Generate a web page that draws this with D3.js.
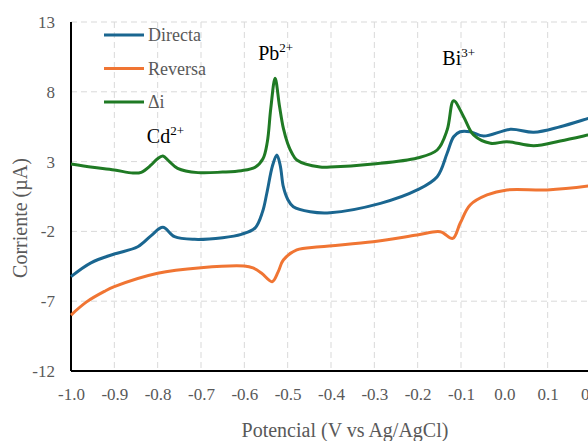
<!DOCTYPE html>
<html>
<head>
<meta charset="utf-8">
<script src="https://cdn.jsdelivr.net/npm/d3@7"></script>
<style>
  body { margin: 0; background: #fff; }
  svg { display: block; font-family: "Liberation Serif", "DejaVu Serif", serif; }
</style>
</head>
<body>
<div id="chart"></div>
<script>
// potencial (V) / corriente (uA)
let directaData = [
    [-1.000, -5.24], [-0.954, -4.25], [-0.900, -3.62], [-0.846, -3.10], [-0.815, -2.30],
    [-0.788, -1.71], [-0.761, -2.38], [-0.715, -2.57], [-0.650, -2.45], [-0.607, -2.21],
    [-0.575, -1.75], [-0.558, -0.60], [-0.548, 0.75], [-0.535, 2.70], [-0.525, 3.47],
    [-0.517, 2.70], [-0.510, 1.20], [-0.500, 0.30], [-0.487, -0.23], [-0.448, -0.59],
    [-0.402, -0.66], [-0.286, 0.01], [-0.201, 0.97], [-0.155, 1.92], [-0.132, 3.60],
    [-0.117, 4.78], [-0.102, 5.14], [-0.079, 5.14], [-0.048, 4.83], [0.014, 5.31],
    [0.068, 5.10], [0.129, 5.50], [0.194, 6.10], [0.200, 6.15]
];
let reversaData = [
    [-1.000, -7.99], [-0.964, -7.05], [-0.923, -6.30], [-0.900, -5.96], [-0.800, -5.00],
    [-0.700, -4.60], [-0.600, -4.48], [-0.580, -4.62], [-0.560, -5.00],
    [-0.536, -5.60], [-0.522, -4.90], [-0.510, -4.05], [-0.479, -3.33], [-0.425, -3.10],
    [-0.303, -2.74], [-0.201, -2.26], [-0.148, -2.02], [-0.119, -2.50], [-0.102, -1.42],
    [-0.079, -0.11], [-0.040, 0.61], [0.006, 0.97], [0.099, 0.97], [0.194, 1.25], [0.200, 1.28]
];
let deltaData = [
    [-1.000, 2.83], [-0.950, 2.60], [-0.900, 2.40], [-0.857, 2.18], [-0.838, 2.23],
    [-0.815, 2.76], [-0.801, 3.19], [-0.788, 3.40], [-0.774, 3.04], [-0.754, 2.52],
    [-0.707, 2.21], [-0.650, 2.25], [-0.607, 2.35], [-0.575, 2.60], [-0.557, 3.20],
    [-0.547, 4.40], [-0.539, 6.80], [-0.529, 8.97], [-0.519, 7.00],
    [-0.510, 5.40], [-0.500, 4.30], [-0.490, 3.60], [-0.479, 3.12],
    [-0.425, 2.61], [-0.402, 2.61], [-0.303, 2.83], [-0.201, 3.26], [-0.155, 3.83],
    [-0.132, 5.26], [-0.117, 7.36], [-0.094, 6.22], [-0.071, 4.91], [-0.032, 4.31],
    [0.006, 4.43], [0.068, 4.14], [0.129, 4.48], [0.194, 4.91], [0.200, 4.95]
];

let xTicks = [-1.0, -0.9, -0.8, -0.7, -0.6, -0.5, -0.4, -0.3, -0.2, -0.1, 0.0, 0.1, 0.2];
let yTicks = [-12, -7, -2, 3, 8, 13];

let seriesNames = ["Directa", "Reversa", "\u0394i"];
let seriesColors = ["#1a6690", "#f07533", "#1f7a24"];

// peak labels: [ion, charge, x, y]
let peakLabels = [
    ["Cd", "2+", -0.825, 4.3],
    ["Pb", "2+", -0.568, 10.3],
    ["Bi", "3+", -0.143, 9.9]
];

let width = 588, height = 441;
let margin = { "top": 22, "bottom": 70, "left": 71 };

let svg = d3.select("#chart")
    .append("svg")
    .attr("width", width)
    .attr("height", height);

let xScale = d3.scaleLinear()
    .domain([-1.0, 0.2])
    .range([margin.left, 591]);
let yScale = d3.scaleLinear()
    .domain([-12, 13])
    .range([height - margin.bottom, margin.top]);

// grid
svg.append("g")
    .selectAll("line")
    .data(xTicks.slice(1))
    .enter()
    .append("line")
    .attr("x1", d => xScale(d)).attr("x2", d => xScale(d))
    .attr("y1", yScale(13)).attr("y2", yScale(-12))
    .attr("stroke", "#d9d9d9")
    .attr("stroke-dasharray", "6,4");
svg.append("g")
    .selectAll("line")
    .data(yTicks.slice(1))
    .enter()
    .append("line")
    .attr("x1", xScale(-1.0)).attr("x2", width)
    .attr("y1", d => yScale(d)).attr("y2", d => yScale(d))
    .attr("stroke", "#d9d9d9")
    .attr("stroke-dasharray", "6,4");

// axes
let xAxis = svg.append("g")
    .attr("transform", "translate(0," + yScale(-12) + ")")
    .call(d3.axisBottom(xScale)
        .tickValues(xTicks)
        .tickSize(0)
        .tickPadding(17)
        .tickFormat(d => d3.format(".1f")(d).replace("\u2212", "-")));
let yAxis = svg.append("g")
    .attr("transform", "translate(" + xScale(-1.0) + ",0)")
    .call(d3.axisLeft(yScale)
        .tickValues(yTicks)
        .tickSize(0)
        .tickPadding(16)
        .tickFormat(d => String(d)));
[xAxis, yAxis].forEach(function (a) {
    a.select(".domain").remove();
    a.selectAll("text")
        .attr("fill", "#595959")
        .style("font-family", "Liberation Serif")
        .style("font-size", "17px");
});

svg.append("line")
    .attr("x1", xScale(-1.0)).attr("x2", width)
    .attr("y1", yScale(-12)).attr("y2", yScale(-12))
    .attr("stroke", "#000").attr("stroke-width", 2);
svg.append("line")
    .attr("x1", xScale(-1.0)).attr("x2", xScale(-1.0))
    .attr("y1", yScale(13)).attr("y2", yScale(-12))
    .attr("stroke", "#000").attr("stroke-width", 2);

// curves
let line = d3.line()
    .x(d => xScale(d[0]))
    .y(d => yScale(d[1]))
    .curve(d3.curveCatmullRom.alpha(0.5));
[directaData, reversaData, deltaData].forEach(function (data, i) {
    svg.append("path")
        .attr("d", line(data))
        .attr("fill", "none")
        .attr("stroke", seriesColors[i])
        .attr("stroke-width", 3)
        .attr("stroke-linejoin", "round");
});

// legend
let legend = svg.append("g");
seriesNames.forEach(function (name, i) {
    let ly = 35 + i * 33.5;
    legend.append("line")
        .attr("x1", 104).attr("x2", 144)
        .attr("y1", ly).attr("y2", ly)
        .attr("stroke", seriesColors[i])
        .attr("stroke-width", 3);
    legend.append("text")
        .attr("x", 148).attr("y", ly + 6)
        .attr("fill", "#595959")
        .style("font-size", "18px")
        .text(name);
});

// peak labels
peakLabels.forEach(function (p) {
    let t = svg.append("text")
        .attr("x", xScale(p[2]))
        .attr("y", yScale(p[3]))
        .attr("fill", "#000")
        .style("font-size", "20px");
    t.append("tspan").text(p[0]);
    t.append("tspan")
        .attr("dy", -8)
        .style("font-size", "13px")
        .text(p[1]);
});

// axis titles
svg.append("text")
    .attr("x", 345).attr("y", 437)
    .attr("text-anchor", "middle")
    .attr("fill", "#595959")
    .style("font-size", "20px")
    .text("Potencial (V vs Ag/AgCl)");
svg.append("text")
    .attr("transform", "translate(27,218) rotate(-90)")
    .attr("text-anchor", "middle")
    .attr("fill", "#595959")
    .style("font-size", "20px")
    .text("Corriente (\u00b5A)");
</script>
</body>
</html>
